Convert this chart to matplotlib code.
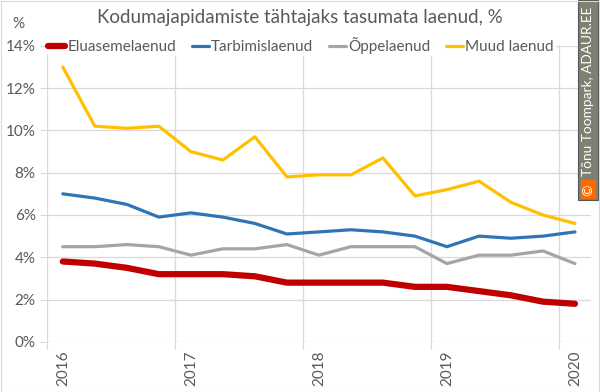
import numpy as np
import matplotlib.pyplot as plt
from matplotlib.patches import Rectangle

plt.rcParams['font.family'] = ['Lato', 'DejaVu Sans']

title = 'Kodumajapidamiste tähtajaks tasumata laenud, %'
years = ['2016', '2017', '2018', '2019', '2020']

# quarterly values 2016Q1 .. 2020Q1, in percent
eluase = [3.8, 3.7, 3.5, 3.2, 3.2, 3.2, 3.1, 2.8, 2.8, 2.8, 2.8, 2.6, 2.6, 2.4, 2.2, 1.9, 1.8]
tarbimis = [7.0, 6.8, 6.5, 5.9, 6.1, 5.9, 5.6, 5.1, 5.2, 5.3, 5.2, 5.0, 4.5, 5.0, 4.9, 5.0, 5.2]
oppe = [4.5, 4.5, 4.6, 4.5, 4.1, 4.4, 4.4, 4.6, 4.1, 4.5, 4.5, 4.5, 3.7, 4.1, 4.1, 4.3, 3.7]
muud = [13.0, 10.2, 10.1, 10.2, 9.0, 8.6, 9.7, 7.8, 7.9, 7.9, 8.7, 6.9, 7.2, 7.6, 6.6, 6.0, 5.6]

series = [
    ('Eluasemelaenud', eluase, '#C00000', 4.5),
    ('Tarbimislaenud', tarbimis, '#2E75B6', 2.3),
    ('Õppelaenud', oppe, '#A5A5A5', 2.3),
    ('Muud laenud', muud, '#FFC000', 2.3),
]

txt = '#595959'
grid = '#D9D9D9'

fig = plt.figure(figsize=(6.0, 3.92), dpi=100)
ax = fig.add_axes([0.078, 0.128, 0.907, 0.755])

x = np.arange(len(eluase))
for name, vals, col, lw in series:
    ax.plot(x, vals, color=col, lw=lw, label=name, solid_capstyle='round',
            solid_joinstyle='round')

ax.set_xlim(-0.5, len(x) - 0.5)
ax.set_ylim(0, 14)
ax.set_yticks(np.arange(0, 15, 2))
ax.set_yticklabels(['%d%%' % v for v in range(0, 15, 2)])
ax.set_xticks(np.arange(-0.5, len(x), 4))
ax.set_xticklabels([])
ax.set_xticks(np.arange(0, len(x), 4), minor=True)
ax.set_xticklabels(years, minor=True, rotation=90)
ax.tick_params(axis='x', which='minor', length=0, pad=6)
ax.tick_params(axis='x', which='major', length=5, color=grid)
ax.tick_params(axis='y', length=5, color=grid, pad=3)
ax.tick_params(labelsize=11, labelcolor=txt)
ax.tick_params(axis='x', which='minor', labelsize=11, labelcolor=txt)
ax.grid(True, which='major', color=grid, lw=0.9)
ax.set_axisbelow(True)
for s in ax.spines.values():
    s.set_visible(False)

leg = ax.legend(loc='center left', bbox_to_anchor=(0.0, 1.0, 0.935, 0.0), ncol=4,
                mode='expand', frameon=True, fontsize=11, handlelength=1.1,
                handletextpad=0.15, borderpad=0.1, labelspacing=0, borderaxespad=0)
leg.get_frame().set_facecolor('white')
leg.get_frame().set_edgecolor('none')
leg.get_frame().set_alpha(1)
for t in leg.get_texts():
    t.set_color(txt)

fig.text(0.5, 0.955, title, ha='center', va='center', fontsize=13.5, color=txt)
fig.text(0.03, 0.94, '%', ha='center', va='center', fontsize=11, color=txt)

# watermark
fig.add_artist(Rectangle((0.964, 0.49), 0.032, 0.51, transform=fig.transFigure,
                         facecolor='#7F7F72', edgecolor='#555555', lw=0.8))
fig.add_artist(Rectangle((0.968, 0.492), 0.025, 0.048, transform=fig.transFigure,
                         facecolor='#FF6A00', edgecolor='none'))
fig.text(0.9805, 0.516, '©', rotation=90, ha='center', va='center', fontsize=10,
         color='white')
fig.text(0.9805, 0.768, 'Tõnu Toompark, ADAUR.EE', rotation=90, ha='center',
         va='center', fontsize=9.8, color='white')

fig.add_artist(Rectangle((0.001, 0.001), 0.997, 0.997, transform=fig.transFigure,
                         facecolor='none', edgecolor='#D9D9D9', lw=0.8))

fig.savefig('out.png', dpi=100)
